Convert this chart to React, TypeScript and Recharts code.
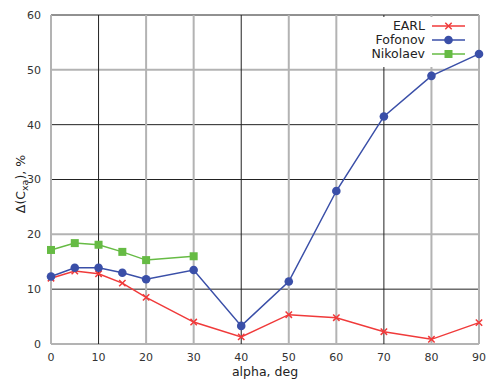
import React from "react";
import { LineChart, Line, XAxis, YAxis, CartesianGrid } from "recharts";

const alpha = [0, 5, 10, 15, 20, 30, 40, 50, 60, 70, 80, 90];
const earl = [12.0, 13.3, 12.8, 11.1, 8.5, 4.0, 1.3, 5.35, 4.8, 2.25, 0.85, 3.9];
const fofonov = [12.3, 13.9, 13.9, 13.0, 11.8, 13.5, 3.3, 11.4, 27.9, 41.5, 48.9, 52.9];
const nikolaev = [17.15, 18.4, 18.1, 16.8, 15.3, 16.0];

const xTicks = [0, 10, 20, 30, 40, 50, 60, 70, 80, 90];
const yTicks = [0, 10, 20, 30, 40, 50, 60];

const data = alpha.map((a, i) => ({
  alpha: a,
  earl: earl[i],
  fofonov: fofonov[i],
  nikolaev: i < nikolaev.length ? nikolaev[i] : null,
}));

const RED = "#f03a3a";
const BLUE = "#3a4fa8";
const GREEN = "#66bb44";
const FONT = "DejaVu Sans, sans-serif";

// grid lines alternate between crisp dark and soft light gray
const darkX = [1, 4, 7];
const darkY = [1, 3, 4, 6];

// white legend panel, painted over the grid but under the series
const LEGEND_BOX = { x: 373, y: 17, width: 104, height: 50 };

const gridLine = (dark: number[], last: number) => (props: any) => {
  const { x1, y1, x2, y2, index } = props;
  const isDark = dark.includes(index);
  const line = (
    <line
      x1={x1}
      y1={y1}
      x2={x2}
      y2={y2}
      stroke={isDark ? "#222" : "#b3b3b3"}
      strokeWidth={isDark ? 1 : 2}
    />
  );
  if (index === last) {
    return (
      <g key={props.key ?? index}>
        <rect {...LEGEND_BOX} fill="#fff" />
        {line}
      </g>
    );
  }
  return <g key={props.key ?? index}>{line}</g>;
};

const CrossDot = (props: any) => {
  const { cx, cy } = props;
  if (cx == null || cy == null) return null;
  const s = 3.2;
  return (
    <path
      d={`M${cx - s},${cy - s}L${cx + s},${cy + s}M${cx - s},${cy + s}L${cx + s},${cy - s}`}
      stroke={RED}
      strokeWidth={1.5}
      fill="none"
    />
  );
};

const CircleDot = (props: any) => {
  const { cx, cy } = props;
  if (cx == null || cy == null) return null;
  return <circle cx={cx} cy={cy} r={4.3} fill={BLUE} />;
};

const SquareDot = (props: any) => {
  const { cx, cy } = props;
  if (cx == null || cy == null) return null;
  return <rect x={cx - 4} y={cy - 4} width={8} height={8} fill={GREEN} />;
};

const legendItems = [
  { name: "EARL", color: RED, Dot: CrossDot },
  { name: "Fofonov", color: BLUE, Dot: CircleDot },
  { name: "Nikolaev", color: GREEN, Dot: SquareDot },
];

export default function App() {
  return (
    <div style={{ position: "absolute", left: 0, top: 0, width: 488, height: 380, background: "#fff" }}>
      <LineChart
        width={488}
        height={380}
        data={data}
        margin={{ top: 15, right: 9, bottom: 6, left: 6 }}
      >
        <CartesianGrid
          horizontalValues={yTicks}
          verticalValues={xTicks}
          horizontal={gridLine(darkY, -1)}
          vertical={gridLine(darkX, xTicks.length - 1)}
        />
        <XAxis
          dataKey="alpha"
          type="number"
          domain={[0, 90]}
          ticks={xTicks}
          height={30}
          axisLine={false}
          tickLine={false}
          tick={{ fontSize: 11, fill: "#333", fontFamily: FONT }}
          tickMargin={3}
        />
        <YAxis
          type="number"
          domain={[0, 60]}
          ticks={yTicks}
          width={45}
          axisLine={false}
          tickLine={false}
          tick={{ fontSize: 11, fill: "#333", fontFamily: FONT }}
          tickMargin={4}
        />
        <Line
          dataKey="earl"
          stroke={RED}
          strokeWidth={1.5}
          dot={<CrossDot />}
          activeDot={false}
          isAnimationActive={false}
        />
        <Line
          dataKey="fofonov"
          stroke={BLUE}
          strokeWidth={1.5}
          dot={<CircleDot />}
          activeDot={false}
          isAnimationActive={false}
        />
        <Line
          dataKey="nikolaev"
          stroke={GREEN}
          strokeWidth={1.5}
          dot={<SquareDot />}
          activeDot={false}
          isAnimationActive={false}
        />
      </LineChart>
      <svg
        width={488}
        height={380}
        style={{ position: "absolute", left: 0, top: 0, pointerEvents: "none" }}
      >
        {legendItems.map((it, i) => {
          const y = 26 + i * 14;
          return (
            <g key={it.name}>
              <text
                x={425}
                y={y}
                dy="0.35em"
                textAnchor="end"
                fontSize={12.5}
                fontFamily={FONT}
                fill="#222"
              >
                {it.name}
              </text>
              <line x1={432} x2={465} y1={y} y2={y} stroke={it.color} strokeWidth={1.5} />
              <it.Dot cx={448.5} cy={y} />
            </g>
          );
        })}
        <text
          x={265}
          y={376}
          textAnchor="middle"
          fontSize={12.5}
          fontFamily={FONT}
          fill="#222"
        >
          alpha, deg
        </text>
        <text
          transform="translate(25,184) rotate(-90)"
          textAnchor="middle"
          fontSize={12.5}
          fontFamily={FONT}
          fill="#222"
        >
          Δ(C
          <tspan fontSize={9.5} dy={3}>xa</tspan>
          <tspan dy={-3}>), %</tspan>
        </text>
      </svg>
    </div>
  );
}
